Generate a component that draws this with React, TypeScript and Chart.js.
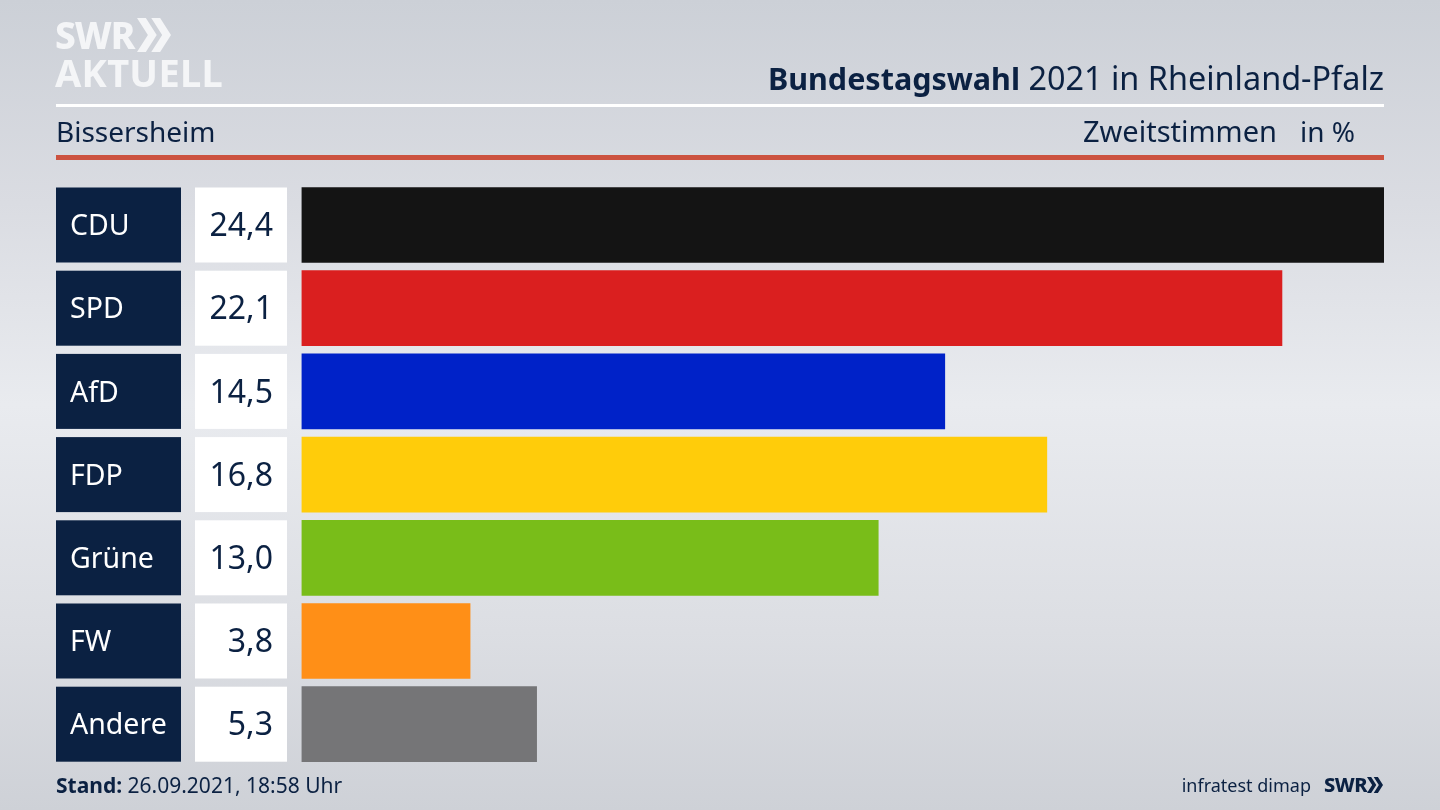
import { useEffect, useRef } from 'react'
import { Chart, registerables } from 'chart.js'
import type { Plugin } from 'chart.js'

Chart.register(...registerables)

const parties = ['CDU', 'SPD', 'AfD', 'FDP', 'Grüne', 'FW', 'Andere']
const shares = [24.4, 22.1, 14.5, 16.8, 13.0, 3.8, 5.3]
const barColors = ['#141414', '#da1f1f', '#0022c8', '#ffcc0a', '#79bd19', '#ff8f17', '#757577']

const NAVY = '#0b2142'
const FONT = '"Noto Sans", sans-serif'
const BAR_HEIGHT = 75

// Party and value boxes left of the bars, aligned with the category scale
const rowLabels: Plugin<'bar'> = {
  id: 'rowLabels',
  afterDraw(chart) {
    const { ctx, scales } = chart
    ctx.save()
    ctx.textBaseline = 'middle'
    parties.forEach((party, i) => {
      const y = scales.y.getPixelForValue(i)
      const top = y - BAR_HEIGHT / 2
      ctx.fillStyle = NAVY
      ctx.fillRect(56, top, 125, BAR_HEIGHT)
      ctx.fillStyle = '#ffffff'
      ctx.fillRect(195, top, 92, BAR_HEIGHT)
      ctx.font = `28.5px ${FONT}`
      ctx.textAlign = 'left'
      ctx.fillText(party, 70, y + 2)
      ctx.font = `32px ${FONT}`
      ctx.fillStyle = NAVY
      ctx.textAlign = 'right'
      ctx.fillText(shares[i].toFixed(1).replace('.', ','), 273, y + 2)
    })
    ctx.restore()
  }
}

function text(style: React.CSSProperties, content: React.ReactNode) {
  return <div style={{ position: 'absolute', whiteSpace: 'nowrap', color: NAVY, fontFamily: FONT, ...style }}>{content}</div>
}

function Chevrons({ x, y, h, color }: { x: number; y: number; h: number; color: string }) {
  const w = h * 0.58
  const t = h * 0.26
  const pts = (o: number) => `${o},0 ${o + t},0 ${o + w},${h / 2} ${o + t},${h} ${o},${h} ${o + w - t},${h / 2}`
  return (
    <svg style={{ position: 'absolute', left: x, top: y }} width={h} height={h}>
      <polygon points={pts(0)} fill={color} />
      <polygon points={pts(h * 0.42)} fill={color} />
    </svg>
  )
}

export default function App() {
  const canvasRef = useRef<HTMLCanvasElement>(null)

  useEffect(() => {
    document.body.style.margin = '0'
    const chart = new Chart(canvasRef.current!, {
      type: 'bar',
      data: {
        labels: parties,
        datasets: [{
          data: shares,
          backgroundColor: barColors,
          barThickness: BAR_HEIGHT,
          borderWidth: 0
        }]
      },
      options: {
        indexAxis: 'y',
        animation: false,
        responsive: false,
        layout: { padding: { left: 301.5, right: 56, top: 183.4, bottom: 44.2 } },
        scales: {
          x: { display: false, min: 0, max: 24.4 },
          y: { display: false }
        },
        plugins: { legend: { display: false }, tooltip: { enabled: false } }
      },
      plugins: [rowLabels]
    })
    return () => chart.destroy()
  }, [])

  return (
    <div style={{
      position: 'relative', width: 1440, height: 810, overflow: 'hidden',
      background: 'linear-gradient(180deg, #ccd0d7 0%, #dadce2 25%, #e9ebef 50%, #dcdee3 78%, #ced1d7 100%)'
    }}>
      <canvas ref={canvasRef} width={1440} height={810} style={{ position: 'absolute', left: 0, top: 0 }} />

      {text({ left: 55, top: 10, fontSize: 37, lineHeight: '50px', fontWeight: 800, color: '#f4f5f7', letterSpacing: -1 }, 'SWR')}
      <Chevrons x={137} y={18} h={34} color="#f4f5f7" />
      {text({ left: 55, top: 47, fontSize: 38, lineHeight: '50px', fontWeight: 700, color: '#f4f5f7', letterSpacing: 0.3 }, 'AKTUELL')}

      {text({ right: 56, top: 55, fontSize: 32.4, lineHeight: '44px' }, <><b style={{ fontSize: 30.5 }}>Bundestagswahl</b> 2021 in Rheinland-Pfalz</>)}
      <div style={{ position: 'absolute', left: 56, top: 104, width: 1328, height: 3, background: '#ffffff' }} />
      {text({ left: 56, top: 111, fontSize: 28, lineHeight: '40px' }, 'Bissersheim')}
      {text({ right: 163, top: 111, fontSize: 29, lineHeight: '40px' }, 'Zweitstimmen')}
      {text({ right: 85, top: 111, fontSize: 28, lineHeight: '40px' }, 'in %')}
      <div style={{ position: 'absolute', left: 56, top: 155, width: 1328, height: 5, background: '#cc5240' }} />

      {text({ left: 56, top: 770, fontSize: 21, lineHeight: '30px' }, <><b>Stand:</b> 26.09.2021, 18:58 Uhr</>)}
      {text({ right: 129, top: 770, fontSize: 18, lineHeight: '30px' }, 'infratest dimap')}
      {text({ left: 1324, top: 770, fontSize: 20, lineHeight: '30px', fontWeight: 800, letterSpacing: -0.5 }, 'SWR')}
      <Chevrons x={1367} y={777} h={16} color={NAVY} />
    </div>
  )
}
